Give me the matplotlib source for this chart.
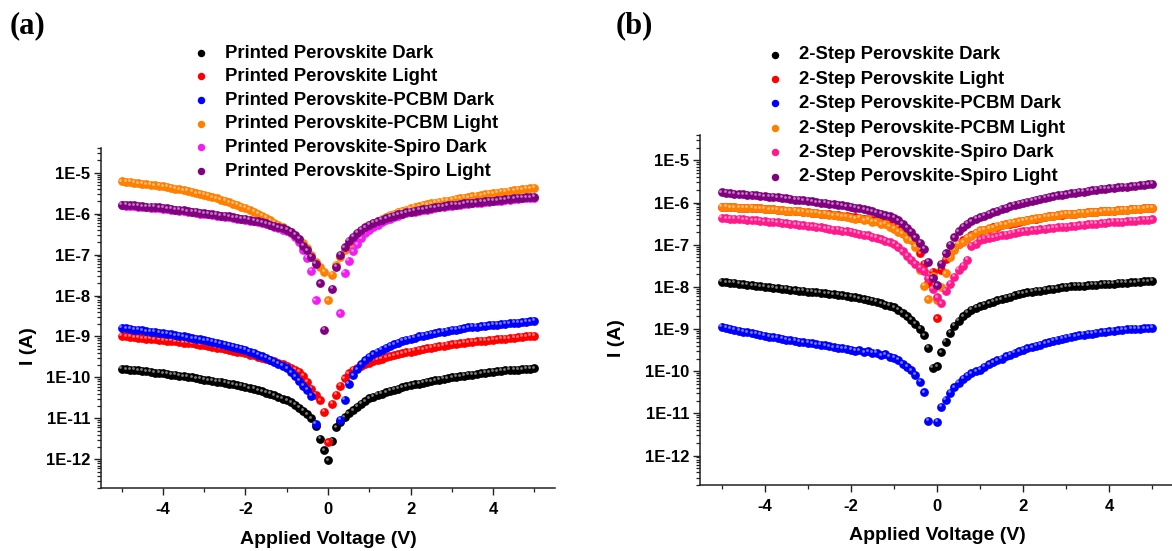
import numpy as np
import matplotlib
matplotlib.use("Agg")
import matplotlib.pyplot as plt
from matplotlib.ticker import LogLocator, FuncFormatter, NullFormatter, MultipleLocator
from matplotlib.transforms import offset_copy
from matplotlib.font_manager import FontProperties

nan = np.nan

# Applied voltage sweep (V)
voltage = [
    -5.0, -4.9, -4.8, -4.7, -4.6, -4.5, -4.4, -4.3, -4.2, -4.1,
    -4.0, -3.9, -3.8, -3.7, -3.6, -3.5, -3.4, -3.3, -3.2, -3.1,
    -3.0, -2.9, -2.8, -2.7, -2.6, -2.5, -2.4, -2.3, -2.2, -2.1,
    -2.0, -1.9, -1.8, -1.7, -1.6, -1.5, -1.4, -1.3, -1.2, -1.1,
    -1.0, -0.9, -0.8, -0.7, -0.6, -0.5, -0.4, -0.3, -0.2, -0.1,
    0.0, 0.1, 0.2, 0.3, 0.4, 0.5, 0.6, 0.7, 0.8, 0.9,
    1.0, 1.1, 1.2, 1.3, 1.4, 1.5, 1.6, 1.7, 1.8, 1.9,
    2.0, 2.1, 2.2, 2.3, 2.4, 2.5, 2.6, 2.7, 2.8, 2.9,
    3.0, 3.1, 3.2, 3.3, 3.4, 3.5, 3.6, 3.7, 3.8, 3.9,
    4.0, 4.1, 4.2, 4.3, 4.4, 4.5, 4.6, 4.7, 4.8, 4.9, 5.0,
]

# ---------------- Panel (a): log10 of current (A) ----------------
a_labels = ["Printed Perovskite Dark", "Printed Perovskite Light",
            "Printed Perovskite-PCBM Dark", "Printed Perovskite-PCBM Light",
            "Printed Perovskite-Spiro Dark", "Printed Perovskite-Spiro Light"]
a_colors = ["#000000", "#FF0000", "#0000FF", "#FF8000", "#F01EF0", "#800080"]

a_dark = [
    -9.79, -9.80, -9.81, -9.82, -9.83, -9.84, -9.85, -9.86, -9.88, -9.89,
    -9.90, -9.91, -9.93, -9.94, -9.96, -9.97, -9.99, -10.00, -10.02, -10.03,
    -10.05, -10.07, -10.08, -10.10, -10.11, -10.13, -10.15, -10.17, -10.19, -10.21,
    -10.23, -10.26, -10.28, -10.31, -10.34, -10.37, -10.40, -10.44, -10.48, -10.52,
    -10.56, -10.61, -10.67, -10.74, -10.82, -10.90, -11.00, -11.18, -11.50, -11.78,
    -12.02, -11.55, -11.22, -11.08, -10.97, -10.88, -10.80, -10.72, -10.65, -10.58,
    -10.51, -10.47, -10.43, -10.40, -10.36, -10.33, -10.30, -10.27, -10.24, -10.22,
    -10.19, -10.17, -10.15, -10.13, -10.11, -10.09, -10.07, -10.05, -10.03, -10.02,
    -10.00, -9.99, -9.97, -9.96, -9.94, -9.93, -9.92, -9.90, -9.89, -9.87,
    -9.86, -9.85, -9.84, -9.83, -9.82, -9.82, -9.81, -9.80, -9.79, -9.79, -9.78,
]
a_light = [
    -8.99, -9.00, -9.01, -9.02, -9.03, -9.04, -9.05, -9.06, -9.07, -9.08,
    -9.09, -9.10, -9.11, -9.12, -9.13, -9.15, -9.16, -9.17, -9.18, -9.20,
    -9.21, -9.23, -9.25, -9.27, -9.29, -9.31, -9.33, -9.35, -9.37, -9.39,
    -9.41, -9.44, -9.46, -9.49, -9.52, -9.55, -9.58, -9.61, -9.65, -9.68,
    -9.72, -9.77, -9.82, -9.86, -9.96, -10.10, -10.28, -10.42, -10.56, -10.84,
    -11.58, -10.64, -10.42, -10.20, -10.02, -9.90, -9.82, -9.76, -9.72, -9.68,
    -9.64, -9.60, -9.57, -9.54, -9.51, -9.48, -9.46, -9.43, -9.41, -9.39,
    -9.37, -9.35, -9.33, -9.31, -9.29, -9.27, -9.25, -9.24, -9.22, -9.21,
    -9.19, -9.18, -9.17, -9.16, -9.14, -9.13, -9.12, -9.11, -9.10, -9.09,
    -9.08, -9.07, -9.06, -9.05, -9.04, -9.03, -9.02, -9.01, -9.00, -8.99, -8.98,
]
a_pcbm_dark = [
    -8.79, -8.80, -8.81, -8.83, -8.84, -8.85, -8.87, -8.88, -8.89, -8.91,
    -8.92, -8.94, -8.95, -8.97, -8.99, -9.00, -9.02, -9.04, -9.06, -9.07,
    -9.09, -9.11, -9.13, -9.15, -9.18, -9.20, -9.23, -9.25, -9.28, -9.30,
    -9.33, -9.37, -9.40, -9.44, -9.48, -9.52, -9.57, -9.62, -9.67, -9.72,
    -9.78, -9.87, -9.97, -10.08, -10.20, -10.30, -10.45, -11.13, nan, nan,
    nan, nan, nan, -11.04, -10.55, -10.15, -9.95, -9.80, -9.68, -9.58,
    -9.49, -9.43, -9.38, -9.33, -9.28, -9.23, -9.19, -9.15, -9.11, -9.08,
    -9.05, -9.03, -9.00, -8.98, -8.96, -8.94, -8.92, -8.90, -8.88, -8.86,
    -8.84, -8.83, -8.81, -8.80, -8.78, -8.77, -8.76, -8.75, -8.74, -8.73,
    -8.72, -8.71, -8.70, -8.69, -8.68, -8.67, -8.66, -8.65, -8.64, -8.63, -8.62,
]
a_pcbm_light = [
    -5.21, -5.22, -5.23, -5.25, -5.26, -5.27, -5.28, -5.30, -5.31, -5.32,
    -5.33, -5.35, -5.37, -5.39, -5.41, -5.43, -5.45, -5.47, -5.50, -5.52,
    -5.54, -5.57, -5.60, -5.63, -5.66, -5.69, -5.72, -5.76, -5.79, -5.83,
    -5.86, -5.91, -5.96, -6.00, -6.05, -6.10, -6.16, -6.22, -6.27, -6.33,
    -6.39, -6.46, -6.54, -6.63, -6.72, -6.85, -7.00, -7.17, -7.30, -7.42,
    -8.12, -7.50, -7.25, -7.05, -6.90, -6.74, -6.62, -6.52, -6.43, -6.35,
    -6.28, -6.23, -6.17, -6.12, -6.08, -6.03, -6.00, -5.96, -5.93, -5.90,
    -5.87, -5.84, -5.82, -5.79, -5.77, -5.75, -5.73, -5.71, -5.69, -5.68,
    -5.66, -5.64, -5.63, -5.61, -5.60, -5.58, -5.56, -5.55, -5.53, -5.52,
    -5.50, -5.49, -5.47, -5.46, -5.44, -5.43, -5.42, -5.41, -5.39, -5.38, -5.37,
]
a_spiro_dark = [
    -5.80, -5.81, -5.82, -5.82, -5.83, -5.84, -5.85, -5.86, -5.86, -5.87,
    -5.88, -5.89, -5.90, -5.92, -5.93, -5.94, -5.96, -5.97, -5.98, -6.00,
    -6.01, -6.02, -6.04, -6.05, -6.07, -6.08, -6.09, -6.11, -6.12, -6.14,
    -6.15, -6.17, -6.19, -6.21, -6.23, -6.26, -6.29, -6.32, -6.35, -6.39,
    -6.43, -6.48, -6.57, -6.70, -6.90, -7.08, -7.40, -8.12, nan, nan,
    nan, nan, nan, -8.43, -7.45, -7.15, -6.92, -6.75, -6.60, -6.48,
    -6.40, -6.33, -6.27, -6.21, -6.16, -6.12, -6.08, -6.05, -6.02, -5.99,
    -5.97, -5.95, -5.93, -5.91, -5.90, -5.88, -5.87, -5.85, -5.84, -5.82,
    -5.81, -5.80, -5.79, -5.77, -5.76, -5.75, -5.74, -5.73, -5.72, -5.71,
    -5.70, -5.69, -5.68, -5.67, -5.66, -5.65, -5.64, -5.63, -5.62, -5.62, -5.61,
]
a_spiro_light = [
    -5.78, -5.79, -5.80, -5.80, -5.81, -5.82, -5.83, -5.84, -5.84, -5.85,
    -5.86, -5.87, -5.88, -5.90, -5.91, -5.92, -5.94, -5.95, -5.96, -5.98,
    -5.99, -6.00, -6.02, -6.03, -6.05, -6.06, -6.07, -6.09, -6.10, -6.12,
    -6.13, -6.15, -6.17, -6.19, -6.21, -6.24, -6.27, -6.30, -6.33, -6.36,
    -6.40, -6.45, -6.52, -6.62, -6.78, -6.90, -7.05, -7.22, -7.70, -8.84,
    nan, -7.84, -7.30, -7.00, -6.82, -6.66, -6.56, -6.47, -6.39, -6.33,
    -6.27, -6.23, -6.19, -6.15, -6.11, -6.08, -6.05, -6.02, -6.00, -5.97,
    -5.95, -5.93, -5.91, -5.89, -5.88, -5.86, -5.85, -5.83, -5.82, -5.80,
    -5.79, -5.78, -5.77, -5.75, -5.74, -5.73, -5.72, -5.71, -5.70, -5.69,
    -5.68, -5.67, -5.66, -5.65, -5.64, -5.63, -5.62, -5.61, -5.60, -5.60, -5.59,
]

# ---------------- Panel (b): log10 of current (A) ----------------
b_labels = ["2-Step Perovskite Dark", "2-Step Perovskite Light",
            "2-Step Perovskite-PCBM Dark", "2-Step Perovskite-PCBM Light",
            "2-Step Perovskite-Spiro Dark", "2-Step Perovskite-Spiro Light"]
b_colors = ["#000000", "#FF0000", "#0000FF", "#FF8000", "#FF1A8C", "#800080"]

b_dark = [
    -7.88, -7.89, -7.90, -7.91, -7.92, -7.94, -7.95, -7.96, -7.97, -7.99,
    -8.00, -8.01, -8.02, -8.03, -8.04, -8.05, -8.07, -8.08, -8.09, -8.10,
    -8.11, -8.12, -8.13, -8.14, -8.15, -8.17, -8.18, -8.19, -8.20, -8.22,
    -8.23, -8.25, -8.27, -8.29, -8.31, -8.33, -8.36, -8.39, -8.42, -8.45,
    -8.48, -8.55, -8.62, -8.70, -8.78, -8.87, -9.00, -9.15, -9.45, -9.92,
    -9.88, -9.55, -9.30, -9.09, -8.92, -8.80, -8.70, -8.62, -8.55, -8.50,
    -8.46, -8.42, -8.39, -8.35, -8.32, -8.29, -8.26, -8.23, -8.20, -8.17,
    -8.15, -8.13, -8.12, -8.10, -8.09, -8.07, -8.06, -8.04, -8.03, -8.01,
    -8.00, -7.99, -7.98, -7.98, -7.97, -7.96, -7.95, -7.95, -7.94, -7.93,
    -7.93, -7.92, -7.91, -7.91, -7.90, -7.89, -7.89, -7.88, -7.87, -7.87, -7.86,
]
b_light = [
    -6.10, -6.10, -6.11, -6.11, -6.12, -6.12, -6.13, -6.13, -6.14, -6.14,
    -6.15, -6.16, -6.16, -6.17, -6.18, -6.19, -6.19, -6.20, -6.21, -6.22,
    -6.23, -6.24, -6.25, -6.26, -6.27, -6.28, -6.29, -6.30, -6.31, -6.33,
    -6.34, -6.35, -6.37, -6.38, -6.40, -6.42, -6.44, -6.46, -6.48, -6.51,
    -6.54, -6.58, -6.63, -6.70, -6.80, -6.95, -7.20, -7.45, -7.90, -7.64,
    -8.75, -7.60, -7.35, -7.20, -7.08, -6.98, -6.90, -6.84, -6.78, -6.73,
    -6.68, -6.65, -6.62, -6.59, -6.57, -6.54, -6.52, -6.50, -6.48, -6.46,
    -6.44, -6.42, -6.40, -6.38, -6.36, -6.35, -6.33, -6.32, -6.30, -6.29,
    -6.28, -6.27, -6.26, -6.25, -6.24, -6.23, -6.23, -6.22, -6.21, -6.20,
    -6.20, -6.19, -6.18, -6.18, -6.17, -6.16, -6.16, -6.15, -6.14, -6.14, -6.13,
]
b_pcbm_dark = [
    -8.95, -8.97, -8.99, -9.02, -9.04, -9.06, -9.08, -9.10, -9.12, -9.14,
    -9.16, -9.18, -9.20, -9.21, -9.23, -9.25, -9.27, -9.28, -9.30, -9.31,
    -9.33, -9.34, -9.36, -9.38, -9.39, -9.41, -9.43, -9.44, -9.46, -9.47,
    -9.49, -9.52, -9.50, -9.55, -9.53, -9.57, -9.56, -9.62, -9.60, -9.66,
    -9.68, -9.73, -9.82, -9.90, -9.98, -10.08, -10.25, -10.50, -11.17, nan,
    -11.20, -10.85, -10.68, -10.51, -10.38, -10.27, -10.18, -10.11, -10.05, -10.00,
    -9.96, -9.90, -9.84, -9.79, -9.74, -9.70, -9.65, -9.61, -9.57, -9.53,
    -9.49, -9.46, -9.43, -9.40, -9.37, -9.34, -9.31, -9.28, -9.26, -9.23,
    -9.21, -9.19, -9.17, -9.15, -9.14, -9.12, -9.11, -9.09, -9.08, -9.06,
    -9.05, -9.04, -9.03, -9.02, -9.01, -9.00, -8.99, -8.99, -8.98, -8.98, -8.97,
]
b_pcbm_light = [
    -6.10, -6.10, -6.11, -6.11, -6.12, -6.12, -6.13, -6.13, -6.14, -6.14,
    -6.15, -6.16, -6.16, -6.17, -6.18, -6.19, -6.19, -6.20, -6.21, -6.22,
    -6.23, -6.24, -6.25, -6.26, -6.27, -6.29, -6.30, -6.31, -6.33, -6.34,
    -6.36, -6.38, -6.36, -6.42, -6.40, -6.46, -6.44, -6.52, -6.50, -6.58,
    -6.62, -6.70, -6.74, -6.86, -6.90, -7.05, -7.60, -7.98, -8.29, -7.75,
    -8.30, -8.00, -7.68, -7.30, -7.12, -6.98, -6.94, -6.84, -6.80, -6.72,
    -6.66, -6.65, -6.61, -6.60, -6.55, -6.53, -6.52, -6.48, -6.47, -6.44,
    -6.43, -6.41, -6.40, -6.37, -6.36, -6.34, -6.33, -6.31, -6.30, -6.28,
    -6.27, -6.26, -6.26, -6.25, -6.24, -6.23, -6.22, -6.22, -6.21, -6.20,
    -6.19, -6.19, -6.18, -6.17, -6.17, -6.16, -6.15, -6.15, -6.14, -6.13, -6.12,
]
b_spiro_dark = [
    -6.36, -6.37, -6.38, -6.38, -6.39, -6.40, -6.41, -6.42, -6.42, -6.43,
    -6.44, -6.45, -6.46, -6.47, -6.48, -6.49, -6.51, -6.52, -6.53, -6.54,
    -6.55, -6.56, -6.58, -6.59, -6.61, -6.62, -6.64, -6.65, -6.67, -6.68,
    -6.70, -6.72, -6.74, -6.76, -6.78, -6.81, -6.84, -6.87, -6.91, -6.94,
    -6.98, -7.05, -7.16, -7.26, -7.36, -7.45, -7.55, -7.62, -7.80, -8.05,
    -8.25, -8.39, -8.10, -7.92, -7.76, -7.60, -7.50, -7.36, -7.02, -6.98,
    -6.88, -6.86, -6.84, -6.82, -6.80, -6.78, -6.76, -6.74, -6.72, -6.70,
    -6.68, -6.67, -6.66, -6.65, -6.63, -6.62, -6.61, -6.60, -6.59, -6.58,
    -6.57, -6.56, -6.55, -6.54, -6.53, -6.52, -6.51, -6.50, -6.49, -6.48,
    -6.47, -6.46, -6.46, -6.45, -6.44, -6.43, -6.43, -6.42, -6.41, -6.41, -6.40,
]
b_spiro_light = [
    -5.76, -5.77, -5.78, -5.79, -5.80, -5.80, -5.81, -5.82, -5.83, -5.84,
    -5.85, -5.86, -5.87, -5.88, -5.89, -5.90, -5.91, -5.93, -5.94, -5.95,
    -5.96, -5.97, -5.99, -6.00, -6.01, -6.03, -6.04, -6.06, -6.07, -6.09,
    -6.10, -6.12, -6.14, -6.16, -6.18, -6.21, -6.24, -6.27, -6.30, -6.33,
    -6.36, -6.42, -6.50, -6.60, -6.70, -6.82, -6.95, -7.10, -7.40, -7.80,
    -7.96, -7.45, -7.20, -7.00, -6.82, -6.68, -6.58, -6.50, -6.44, -6.39,
    -6.35, -6.31, -6.27, -6.23, -6.19, -6.15, -6.12, -6.09, -6.06, -6.03,
    -6.00, -5.98, -5.96, -5.93, -5.91, -5.89, -5.87, -5.85, -5.83, -5.82,
    -5.80, -5.78, -5.77, -5.75, -5.74, -5.72, -5.71, -5.70, -5.68, -5.67,
    -5.66, -5.65, -5.64, -5.63, -5.62, -5.61, -5.60, -5.59, -5.58, -5.57, -5.56,
]

a_series = [a_dark, a_light, a_pcbm_dark, a_pcbm_light, a_spiro_dark, a_spiro_light]
b_series = [b_dark, b_light, b_pcbm_dark, b_pcbm_light, b_spiro_dark, b_spiro_light]

# ---------------- Styling ----------------
plt.rcParams['font.family'] = ['Liberation Sans', 'DejaVu Sans']
plt.rcParams['font.weight'] = 'bold'
plt.rcParams['axes.labelweight'] = 'bold'
plt.rcParams['axes.unicode_minus'] = False

W, H = 1172, 551
fig = plt.figure(figsize=(W / 100, H / 100), dpi=100)


def px_rect(left, top, right, bottom):
    return [left / W, 1 - bottom / H, (right - left) / W, (bottom - top) / H]


ax_a = fig.add_axes(px_rect(101, 148, 555, 488))
ax_b = fig.add_axes(px_rect(700, 135, 1174, 485))

legend_font = FontProperties(family='Liberation Sans', weight='bold', size=13.3)


def draw_panel(ax, series, labels, colors, legend_xy, spacing, ylabel_xy):
    ax.set_yscale('log')
    ax.set_xlim(-5.5, 5.5)
    ax.set_ylim(2e-13, 4e-5)
    hl = offset_copy(ax.transData, fig=fig, x=-1.2, y=1.6, units='dots')
    handles = []
    for i, (logI, lab, col) in enumerate(zip(series, labels, colors)):
        current = np.power(10.0, np.asarray(logI, dtype=float))
        h = ax.scatter(voltage, current, s=40, color=col, linewidths=0,
                       label=lab, zorder=2 + 0.1 * i, clip_on=False)
        ax.scatter(voltage, current, s=4, color='white', alpha=0.5,
                   linewidths=0, transform=hl, zorder=2.05 + 0.1 * i, clip_on=False)
        handles.append(h)

    for side in ('top', 'right'):
        ax.spines[side].set_visible(False)
    for side in ('left', 'bottom'):
        ax.spines[side].set_linewidth(1.1)
        ax.spines[side].set_color('#222222')

    ax.xaxis.set_major_locator(MultipleLocator(2))
    ax.xaxis.set_minor_locator(MultipleLocator(1))
    ax.yaxis.set_major_locator(LogLocator(base=10, numticks=30))
    ax.yaxis.set_minor_locator(LogLocator(base=10, subs=np.arange(2, 10), numticks=100))
    ax.yaxis.set_minor_formatter(NullFormatter())
    ax.yaxis.set_major_formatter(FuncFormatter(lambda v, p: "1E%d" % int(round(np.log10(v)))))

    ax.tick_params(axis='both', which='major', direction='out', length=4.8, width=1.0,
                   labelsize=12, pad=3, color='#222222')
    ax.tick_params(axis='x', which='major', pad=5.5)
    ax.tick_params(axis='both', which='minor', direction='out', length=2.8, width=0.9,
                   color='#222222')
    ax.tick_params(axis='x', which='minor', length=3.2)

    ax.set_xlabel('Applied Voltage (V)', fontsize=14, labelpad=9.5)
    ax.set_ylabel('I (A)', fontsize=14, va='center')
    ax.yaxis.set_label_coords(*ylabel_xy)

    ax.legend(handles=handles, loc='upper left', bbox_to_anchor=legend_xy,
              bbox_transform=fig.transFigure, frameon=False, borderpad=0,
              borderaxespad=0, handlelength=1.0, handletextpad=0.8,
              labelspacing=spacing, prop=legend_font, scatterpoints=1,
              markerscale=0.85)


draw_panel(ax_a, a_series, a_labels, a_colors,
           legend_xy=(192 / W, 1 - 44.5 / H), spacing=0.36, ylabel_xy=(-0.16, 0.418))
draw_panel(ax_b, b_series, b_labels, b_colors,
           legend_xy=(766 / W, 1 - 46.5 / H), spacing=0.40, ylabel_xy=(-0.177, 0.42))

panel_font = dict(family='Liberation Serif', weight='bold', size=22)
fig.text(10 / W, 1 - 26 / H, '(a)', ha='left', va='center', **panel_font)
fig.text(616 / W, 1 - 26 / H, '(b)', ha='left', va='center', **panel_font)

fig.savefig('out.png', dpi=100)
